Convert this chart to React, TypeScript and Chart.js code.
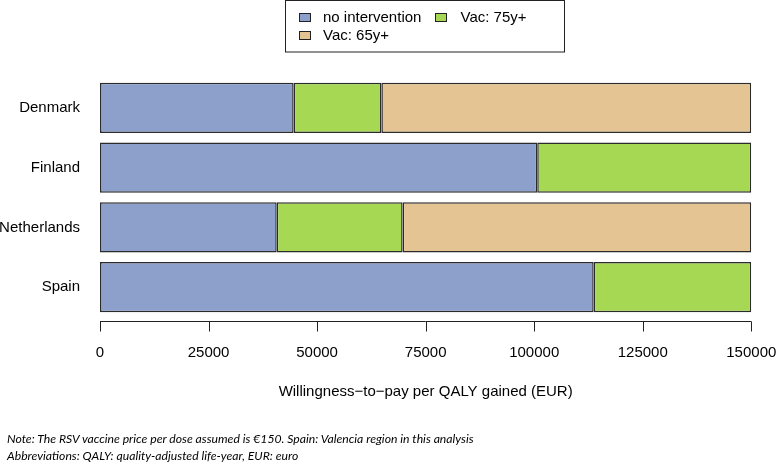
import React, { useEffect, useRef } from "react";
import Chart from "chart.js/auto";

const countries = ["Denmark", "Finland", "Netherlands", "Spain"];
const noIntervention = [44600, 100700, 40700, 113700];
const vac75 = [20200, 49300, 29000, 36300];
const vac65 = [85200, null, 80300, null];
const xTicks = [0, 25000, 50000, 75000, 100000, 125000, 150000];

const seriesNames = ["no intervention", "Vac: 75y+", "Vac: 65y+"];
const seriesColors = ["#8DA0CB", "#A6D854", "#E5C494"];

const FONT = "'Liberation Sans', Arial, Helvetica, sans-serif";

// R-style axis: line offset a little below the bars, ticks pointing down
const rAxisPlugin = {
  id: "rAxis",
  afterDraw(chart: any) {
    const { ctx, chartArea } = chart;
    const x = chart.scales.x;
    const y0 = Math.round(chartArea.bottom + 4) + 0.5;
    ctx.save();
    ctx.strokeStyle = "#222";
    ctx.lineWidth = 1;
    ctx.beginPath();
    ctx.moveTo(x.getPixelForValue(xTicks[0]), y0);
    ctx.lineTo(x.getPixelForValue(xTicks[xTicks.length - 1]), y0);
    xTicks.forEach((v) => {
      const px = Math.round(x.getPixelForValue(v)) + 0.5;
      ctx.moveTo(px, y0);
      ctx.lineTo(px, y0 + 10);
    });
    ctx.stroke();
    ctx.restore();
  },
};

// boxed two-column legend like R's legend(ncol = 2)
const boxLegendPlugin = {
  id: "boxLegend",
  afterDraw(chart: any) {
    const { ctx } = chart;
    const ds = chart.data.datasets;
    const slots = [
      { i: 0, bx: 299.5, tx: 323, cy: 17.5 },
      { i: 1, bx: 435.5, tx: 460.5, cy: 17.5 },
      { i: 2, bx: 299.5, tx: 323, cy: 35.5 },
    ];
    ctx.save();
    ctx.strokeStyle = "#222";
    ctx.lineWidth = 1;
    ctx.strokeRect(285.5, 0.5, 279, 51.5);
    ctx.font = `15px ${FONT}`;
    ctx.textBaseline = "middle";
    ctx.textAlign = "left";
    slots.forEach((s) => {
      ctx.fillStyle = ds[s.i].backgroundColor;
      ctx.fillRect(s.bx, s.cy - 4, 11, 8);
      ctx.strokeRect(s.bx, s.cy - 4, 11, 8);
      ctx.fillStyle = "#000";
      ctx.fillText(ds[s.i].label, s.tx, s.cy + 0.5);
    });
    ctx.restore();
  },
};

function StackedBars() {
  const canvasRef = useRef<HTMLCanvasElement>(null);

  useEffect(() => {
    document.body.style.margin = "0";
    const canvas = canvasRef.current;
    if (!canvas) return;
    const values = [noIntervention, vac75, vac65];
    const chart = new Chart(canvas, {
      type: "bar",
      data: {
        labels: countries,
        datasets: seriesNames.map((name, i) => ({
          label: name,
          data: values[i] as any,
          backgroundColor: seriesColors[i],
          borderColor: "#2b2b2b",
          borderWidth: 1.5,
          borderSkipped: false,
          categoryPercentage: 1,
          barPercentage: 0.838,
        })),
      },
      options: {
        indexAxis: "y",
        responsive: false,
        animation: false,
        layout: { padding: { top: 78, right: 0, left: 0, bottom: 0 } },
        plugins: {
          legend: { display: false },
          tooltip: { enabled: false },
        },
        scales: {
          x: {
            stacked: true,
            min: 0,
            max: 150000,
            afterFit: (s: any) => {
              s.height = 147;
              s.paddingRight = 26.7;
            },
            afterBuildTicks: (s: any) => {
              s.ticks = xTicks.map((v) => ({ value: v }));
            },
            grid: { display: false, drawTicks: false },
            border: { display: false },
            ticks: {
              padding: 27,
              color: "#000",
              font: { family: FONT, size: 15 },
              maxRotation: 0,
              autoSkip: false,
              callback: (v: any) => String(v),
            },
            title: {
              display: true,
              text: "Willingness−to−pay per QALY gained (EUR)",
              color: "#000",
              font: { family: FONT, size: 15 },
              padding: { top: 0, bottom: 63 },
            },
          },
          y: {
            stacked: true,
            afterFit: (s: any) => {
              s.width = 100;
            },
            grid: { display: false, drawTicks: false },
            border: { display: false },
            ticks: {
              padding: 20,
              color: "#000",
              font: { family: FONT, size: 15 },
            },
          },
        },
      },
      plugins: [rAxisPlugin, boxLegendPlugin],
    });
    return () => {
      chart.destroy();
    };
  }, []);

  return <canvas ref={canvasRef} width={778} height={464} style={{ position: "absolute", left: 0, top: 0 }} />;
}

const noteStyle: React.CSSProperties = {
  position: "absolute",
  left: 7,
  fontFamily: "Lato, 'Open Sans', sans-serif",
  fontStyle: "italic",
  fontSize: 12.2,
  color: "#000",
  whiteSpace: "nowrap",
  lineHeight: "16px",
};

export default function App() {
  return (
    <div style={{ position: "relative", width: 778, height: 464, background: "#fff" }}>
      <StackedBars />
      <div style={{ ...noteStyle, top: 431 }}>
        Note: The RSV vaccine price per dose assumed is €150. Spain: Valencia region in this analysis
      </div>
      <div style={{ ...noteStyle, top: 448 }}>Abbreviations: QALY: quality-adjusted life-year, EUR: euro</div>
    </div>
  );
}
